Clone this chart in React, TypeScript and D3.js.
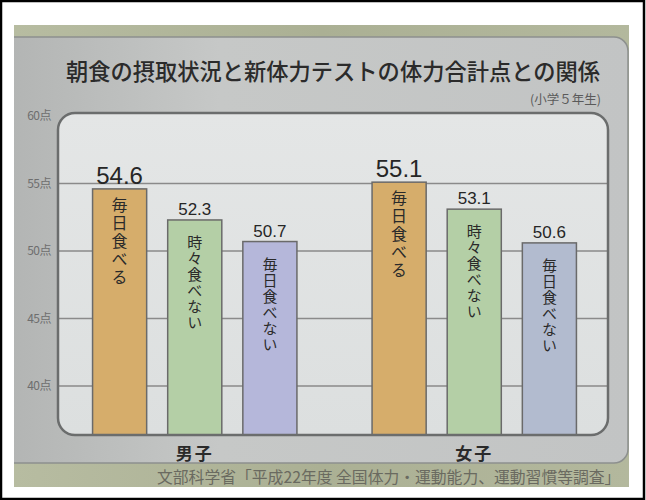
import * as d3 from 'd3';

const groups = ['男子', '女子'];
const series = ['毎日食べる', '時々食べない', '毎日食べない'];
const maleValues = [54.6, 52.3, 50.7];
const femaleValues = [55.1, 53.1, 50.6];
const yTicks = [60, 55, 50, 45, 40];
const title = '朝食の摂取状況と新体力テストの体力合計点との関係';
const subtitle = '(小学５年生)';
const source = '文部科学省「平成22年度 全国体力・運動能力、運動習慣等調査」';

const barColors = [
  ['#d6ad6b', '#b4cfa6', '#b5b7da'],
  ['#d6ad6b', '#b4cfa6', '#b2bbcf'],
];

const W = 646;
const H = 500;
const photo = { x: 14, y: 25, w: 615, h: 462 };
const box = { left: 58, right: 608, top: 113, bottom: 435 };

export default function App() {
  const y = d3.scaleLinear().domain([40, 60]).range([386, 116]);
  const base = y.invert(box.bottom);
  const x0 = d3.scaleBand<string>().domain(groups).range([55, 614]).padding(0);
  const x1 = d3
    .scaleBand<string>()
    .domain(series)
    .range([0, x0.bandwidth()])
    .paddingInner(0.28)
    .paddingOuter(0.5);
  const values = [maleValues, femaleValues];
  const jp = '"Noto Sans CJK JP", sans-serif';
  const num = '"Liberation Sans", Arial, sans-serif';

  return (
    <svg width={W} height={H} style={{ position: 'absolute', left: 0, top: 0 }}>
      <defs>
        <clipPath id="photo">
          <rect x={photo.x} y={photo.y} width={photo.w} height={photo.h} />
        </clipPath>
        <linearGradient id="panel" x1="0" x2="1" y1="0" y2="0">
          <stop offset="0" stopColor="#b2b4b3" />
          <stop offset="0.35" stopColor="#c6c8c7" />
          <stop offset="1" stopColor="#c2c4c4" />
        </linearGradient>
        <linearGradient id="inner" x1="0" x2="0" y1="0" y2="1">
          <stop offset="0" stopColor="#e4e6e6" />
          <stop offset="1" stopColor="#dcdfdf" />
        </linearGradient>
        <linearGradient id="texture" x1="0" x2="1" y1="0" y2="0">
          <stop offset="0" stopColor="#b7bca1" />
          <stop offset="0.5" stopColor="#abb094" />
          <stop offset="1" stopColor="#b3b89d" />
        </linearGradient>
      </defs>
      <rect x={0} y={0} width={W} height={H} fill="#fff" />
      <rect x={1} y={1} width={W - 3} height={H - 2} fill="none" stroke="#000" strokeWidth={2.5} />

      <g clipPath="url(#photo)">
        <rect x={photo.x} y={photo.y} width={photo.w} height={photo.h} fill="url(#texture)" />
        <rect x={0} y={37} width={628} height={426} rx={14} fill="url(#panel)" stroke="#8d908e" strokeWidth={1.5} />

        <text
          x={66}
          y={80}
          textLength={534}
          lengthAdjust="spacingAndGlyphs"
          fontFamily={jp}
          fontSize={23}
          fontWeight={500}
          fill="#2b2b2b"
        >
          {title}
        </text>
        <text x={601} y={104} textAnchor="end" fontFamily={jp} fontSize={12.5} fill="#5a5a5a">
          {subtitle}
        </text>

        {yTicks.map((t) => (
          <text key={t} x={51} y={y(t) + 4} textAnchor="end" fontFamily={jp} fontSize={12} fill="#6e6e6e" letterSpacing={-0.5}>
            {t}点
          </text>
        ))}

        <rect
          x={box.left}
          y={box.top}
          width={box.right - box.left}
          height={box.bottom - box.top}
          rx={17}
          fill="url(#inner)"
        />
        {yTicks.slice(1).map((t) => (
          <line key={t} x1={box.left} x2={box.right} y1={y(t)} y2={y(t)} stroke="#8a8a8a" strokeWidth={1.5} />
        ))}

        {groups.map((g, gi) => (
          <g key={g} transform={`translate(${x0(g)},0)`}>
            {series.map((s, si) => {
              const v = values[gi][si];
              const bx = x1(s)!;
              const bw = x1.bandwidth();
              const top = y(v);
              const big = si === 0;
              return (
                <g key={s}>
                  <rect
                    x={bx}
                    y={top}
                    width={bw}
                    height={y(base) - top}
                    fill={barColors[gi][si]}
                    stroke="#6a6a6a"
                    strokeWidth={1.5}
                  />
                  <text
                    x={bx + bw / 2}
                    y={top - 5}
                    textAnchor="middle"
                    fontFamily={num}
                    fontSize={big ? 24 : 17}
                    fill="#262626"
                  >
                    {v.toFixed(1)}
                  </text>
                  <text
                    x={bx + bw / 2}
                    y={top + (big ? 8 : 15)}
                    fontFamily={jp}
                    fontSize={big ? 16 : 15}
                    letterSpacing={big ? 2 : 1}
                    fill="#2a2a2a"
                    style={{ writingMode: 'vertical-rl' }}
                  >
                    {s}
                  </text>
                </g>
              );
            })}
            <text
              x={x0.bandwidth() / 2}
              y={460}
              textAnchor="middle"
              fontFamily={jp}
              fontSize={17}
              fontWeight={700}
              fill="#2a2a2a"
              letterSpacing={2}
            >
              {g}
            </text>
          </g>
        ))}

        <rect
          x={box.left}
          y={box.top}
          width={box.right - box.left}
          height={box.bottom - box.top}
          rx={17}
          fill="none"
          stroke="#6b6d6d"
          strokeWidth={2.5}
        />

        <text x={157} y={483} fontFamily={jp} fontSize={15.8} fill="#6a6a60">
          {source}
        </text>
      </g>
    </svg>
  );
}
